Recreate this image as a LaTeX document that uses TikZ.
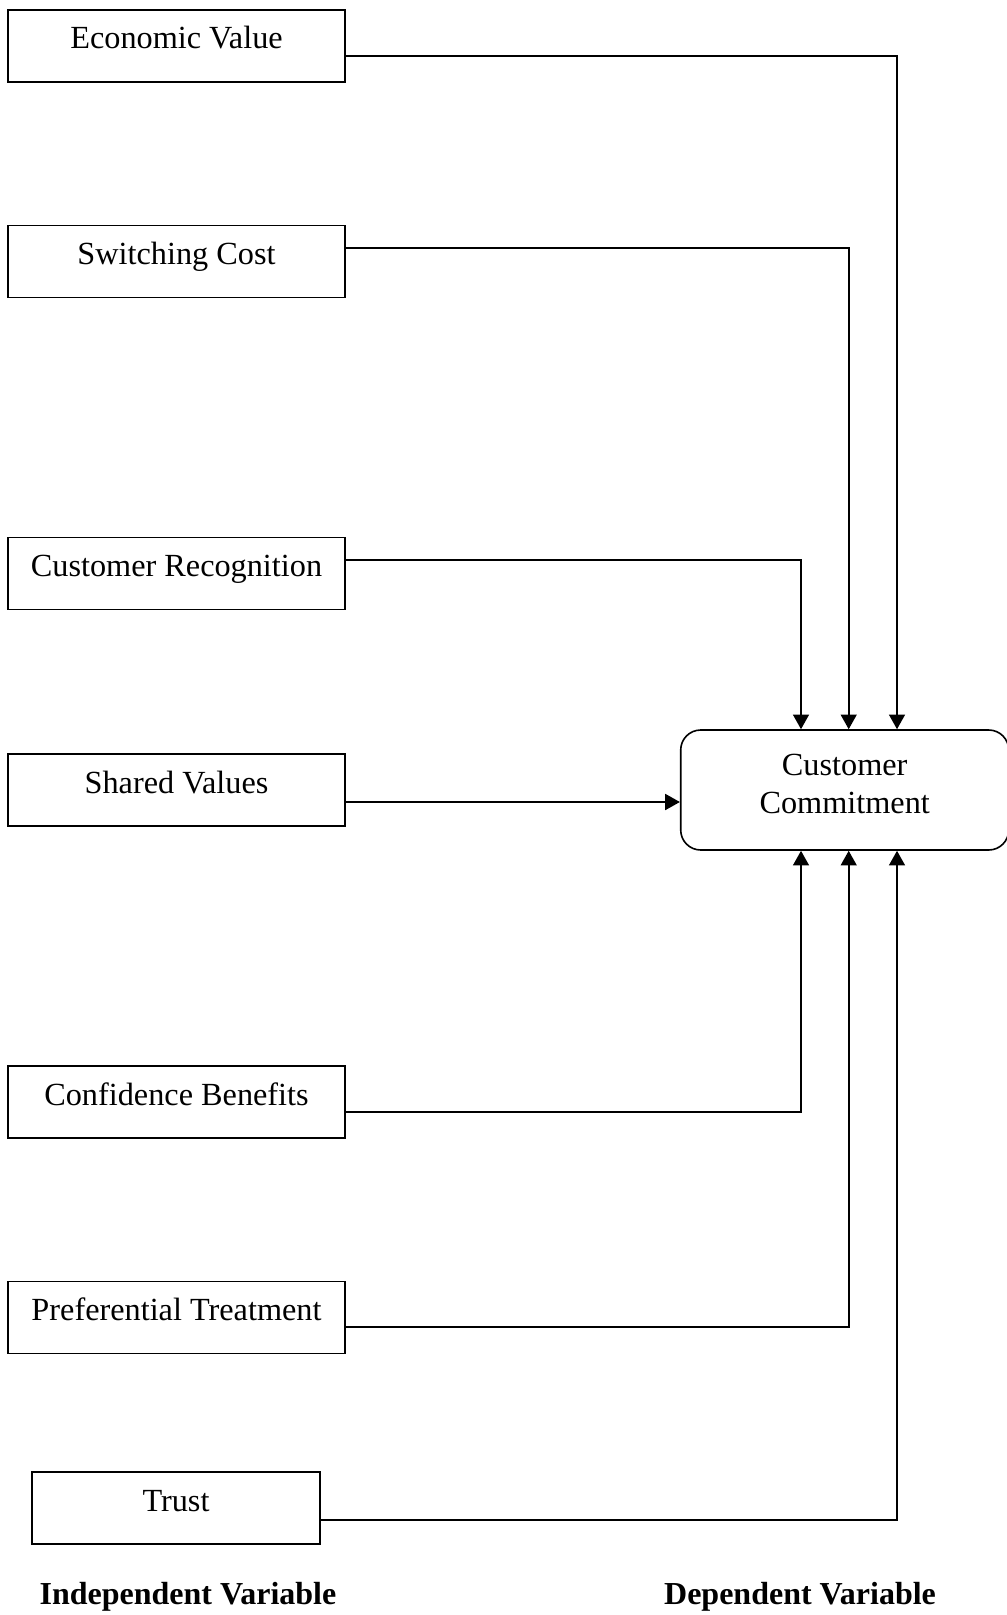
\documentclass[tikz,border=0pt]{standalone}
\usepackage{fontspec}
\setmainfont{Liberation Serif}
\usepackage{tikz}
\usetikzlibrary{arrows.meta,positioning}

\begin{document}
\begin{tikzpicture}[x=0.75pt, y=-0.75pt,
  font=\fontsize{24.2}{28.3}\selectfont,
  factor/.style={rectangle, draw=black, line width=1.2pt, minimum width=252.75pt, minimum height=54pt, inner sep=0pt, text height=0.7em, text depth=0.25em, text centered},
  outcome/.style={rectangle, rounded corners=15pt, draw=black, line width=1.2pt, minimum width=246pt, minimum height=90pt, inner sep=0pt, text depth=9pt, align=center},
  caption/.style={font=\fontsize{24}{28.3}\selectfont\bfseries},
  arrow/.style={line width=1.2pt, -{Triangle[length=11pt,width=12pt]}},
  link/.style={line width=1.2pt}
]
\useasboundingbox (0,0) rectangle (1006,1615);

% Independent variables
\node[factor] (econ) at (176.5,46) {Economic Value};
\node[factor] (switch) at (176.5,261.5) {Switching Cost};
\node[factor] (recog) at (176.5,573.5) {Customer Recognition};
\node[factor] (shared) at (176.5,790) {Shared Values};
\node[factor] (conf) at (176.5,1102) {Confidence Benefits};
\node[factor] (pref) at (176.5,1317.5) {Preferential Treatment};
\node[factor, minimum width=216pt] (trust) at (176,1508) {Trust};

% Dependent variable
\node[outcome] (commit) at (844.7,790) {Customer\\Commitment};

% Lanes into the dependent variable
\coordinate (laneA) at (801,790);
\coordinate (laneB) at (848.7,790);
\coordinate (laneC) at (897,790);

% Connections from above
\draw[arrow] ([yshift=-7.5pt]econ.east) -| (commit.north -| laneC);
\draw[arrow] ([yshift=10.1pt]switch.east) -| (commit.north -| laneB);
\draw[arrow] ([yshift=10.1pt]recog.east) -| (commit.north -| laneA);

% Connection from the left
\draw[arrow] ([yshift=-9pt]shared.east) -- ([yshift=-9pt]shared.east -| commit.west);

% Connections from below
\draw[arrow] ([yshift=-7.5pt]conf.east) -| (commit.south -| laneA);
\draw[arrow] ([yshift=-7.1pt]pref.east) -| (commit.south -| laneB);
\draw[arrow] ([yshift=-9pt]trust.east) -| (commit.south -| laneC);

% Captions
\node[caption] (indep) at (188,1597) {Independent Variable};
\node[caption] (dep) at (800,1597) {Dependent Variable};

\end{tikzpicture}
\end{document}
